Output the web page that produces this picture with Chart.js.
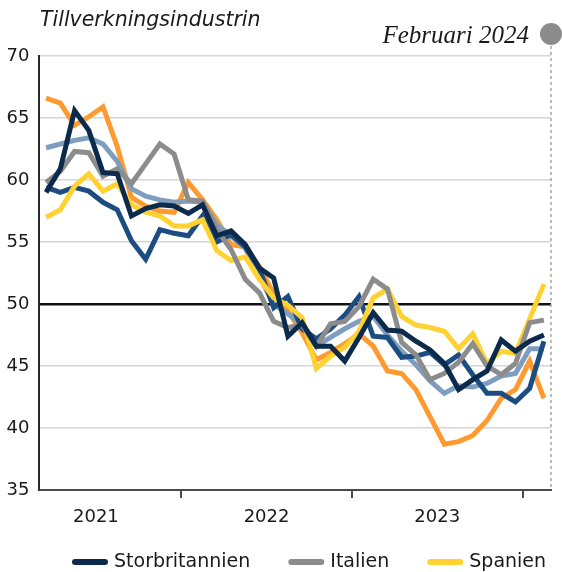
<!DOCTYPE html>
<html lang="sv">
<head>
  <meta charset="UTF-8">
  <title>Tillverkningsindustrin</title>
  <script src="https://cdn.jsdelivr.net/npm/chart.js"></script>
  <style>
    body { margin: 0; background: #fff; }
    canvas { display: block; }
  </style>
</head>
<body>
  <canvas id="pmiChart" width="562" height="572"></canvas>

  <script>
    // Månader, mars 2021 - februari 2024
    const months = [
      '2021-03', '2021-04', '2021-05', '2021-06', '2021-07', '2021-08', '2021-09', '2021-10', '2021-11', '2021-12',
      '2022-01', '2022-02', '2022-03', '2022-04', '2022-05', '2022-06', '2022-07', '2022-08', '2022-09', '2022-10', '2022-11', '2022-12',
      '2023-01', '2023-02', '2023-03', '2023-04', '2023-05', '2023-06', '2023-07', '2023-08', '2023-09', '2023-10', '2023-11', '2023-12',
      '2024-01', '2024-02'
    ];

    const storbritannien = [59.0, 60.9, 65.6, 64.0, 60.6, 60.5, 57.1, 57.7, 58.0, 57.9, 57.3, 58.0, 55.5, 55.9, 54.8, 52.9, 52.1, 47.4, 48.5, 46.6, 46.6, 45.4, 47.3, 49.3, 47.9, 47.8, 47.0, 46.3, 45.2, 43.1, 43.9, 44.6, 47.1, 46.2, 47.0, 47.5];
    const italien = [59.8, 60.7, 62.3, 62.2, 60.3, 60.9, 59.7, 61.3, 62.9, 62.1, 58.4, 58.3, 56.0, 54.4, 52.0, 50.9, 48.6, 48.1, 48.3, 46.6, 48.4, 48.6, 49.8, 52.0, 51.2, 46.9, 45.9, 43.9, 44.4, 45.3, 46.8, 45.0, 44.3, 45.2, 48.5, 48.7];
    const spanien = [57.0, 57.6, 59.5, 60.5, 59.1, 59.7, 58.0, 57.4, 57.1, 56.3, 56.3, 56.8, 54.3, 53.5, 53.8, 52.0, 50.5, 49.9, 48.9, 44.8, 45.8, 46.5, 47.8, 50.5, 51.2, 49.0, 48.3, 48.1, 47.8, 46.4, 47.6, 45.2, 46.2, 46.0, 48.8, 51.6];
    const frankrike = [59.4, 59.0, 59.4, 59.1, 58.2, 57.6, 55.1, 53.6, 56.0, 55.7, 55.5, 57.1, 55.0, 55.6, 54.6, 52.8, 49.7, 50.6, 48.0, 47.2, 48.0, 49.1, 50.6, 47.4, 47.3, 45.7, 45.8, 46.1, 45.1, 45.9, 44.3, 42.8, 42.8, 42.1, 43.2, 47.0];
    const euroomradet = [62.6, 62.9, 63.2, 63.4, 62.9, 61.5, 59.3, 58.7, 58.4, 58.2, 58.3, 58.2, 56.4, 55.5, 54.5, 52.2, 50.0, 49.2, 48.4, 46.6, 47.3, 48.0, 48.6, 49.0, 47.5, 46.2, 45.1, 43.8, 42.8, 43.4, 43.3, 43.6, 44.2, 44.4, 46.4, 46.4];
    const tyskland = [66.6, 66.2, 64.4, 65.1, 65.9, 62.7, 58.6, 57.9, 57.5, 57.4, 59.8, 58.4, 56.8, 54.8, 54.6, 53.0, 50.8, 49.4, 47.7, 45.5, 46.1, 46.8, 47.6, 46.6, 44.6, 44.4, 43.1, 40.9, 38.7, 38.9, 39.4, 40.6, 42.4, 43.1, 45.4, 42.4];

    const yTicks = [35, 40, 45, 50, 55, 60, 65, 70];
    const legendNames = ['Storbritannien', 'Italien', 'Spanien'];

    const FONT = 'DejaVu Sans';
    const TEXT = '#1a1a1a';

    function line(label, data, color) {
      return {
        label: label,
        data: data,
        borderColor: color,
        backgroundColor: color,
        borderWidth: 5,
        pointRadius: 0,
        tension: 0,
        fill: false
      };
    }

    // titel, datum, cirkel, streckad linje och legend
    const overlay = {
      id: 'overlay',
      beforeDatasetsDraw(chart) {
        const ctx = chart.ctx;
        const a = chart.chartArea;
        ctx.save();
        ctx.strokeStyle = '#a6a6a6';
        ctx.lineWidth = 1.5;
        ctx.setLineDash([3, 3]);
        ctx.beginPath();
        ctx.moveTo(a.right, 46);
        ctx.lineTo(a.right, a.bottom);
        ctx.stroke();
        ctx.restore();
      },
      afterDraw(chart) {
        const ctx = chart.ctx;
        const a = chart.chartArea;
        ctx.save();
        ctx.fillStyle = TEXT;
        ctx.font = 'italic 20.5px ' + FONT;
        ctx.textAlign = 'left';
        ctx.textBaseline = 'alphabetic';
        ctx.fillText('Tillverkningsindustrin', 40, 26);

        ctx.font = 'italic 25px "Liberation Serif"';
        ctx.textAlign = 'right';
        ctx.fillText('Februari 2024', 529, 43);

        ctx.fillStyle = '#8c8c8c';
        ctx.beginPath();
        ctx.arc(a.right, 34, 11, 0, Math.PI * 2);
        ctx.fill();

        // legend
        ctx.font = '19px ' + FONT;
        ctx.textAlign = 'left';
        ctx.textBaseline = 'middle';
        ctx.lineCap = 'round';
        ctx.lineWidth = 6;
        let x = 72;
        const y = 562;
        chart.data.datasets.forEach(ds => {
          if (!legendNames.includes(ds.label)) return;
          ctx.strokeStyle = ds.borderColor;
          ctx.beginPath();
          ctx.moveTo(x + 3, y);
          ctx.lineTo(x + 33, y);
          ctx.stroke();
          ctx.fillStyle = TEXT;
          ctx.fillText(ds.label, x + 42, y);
          x += 42 + ctx.measureText(ds.label).width + 38;
        });
        ctx.restore();
      }
    };

    const ctx = document.getElementById('pmiChart').getContext('2d');
    const chart = new Chart(ctx, {
      type: 'line',
      data: {
        labels: months,
        datasets: [
          line('Storbritannien', storbritannien, '#0b2a4c'),
          line('Italien', italien, '#8c8c8c'),
          line('Spanien', spanien, '#ffd231'),
          line('Frankrike', frankrike, '#1c4d80'),
          line('Euroområdet', euroomradet, '#7f9ebf'),
          line('Tyskland', tyskland, '#ff9a30')
        ]
      },
      options: {
        responsive: false,
        animation: false,
        devicePixelRatio: 1,
        layout: { padding: { top: 56, right: 11, bottom: 42, left: 0 } },
        font: { family: FONT },
        plugins: {
          title: { display: false },
          tooltip: { enabled: false },
          legend: { display: false }
        },
        scales: {
          x: {
            type: 'category',
            offset: true,
            afterFit(scale) { scale.height = 40; },
            border: { display: true, color: '#4a4a4a', width: 2 },
            grid: {
              offset: true,
              drawOnChartArea: false,
              drawTicks: true,
              tickLength: 8,
              lineWidth: 2,
              tickColor: c => (months[c.index] && months[c.index].endsWith('-01')) ? '#4a4a4a' : 'rgba(0,0,0,0)'
            },
            ticks: {
              autoSkip: false,
              maxRotation: 0,
              minRotation: 0,
              padding: 9,
              labelOffset: -7.1,
              color: TEXT,
              font: { family: FONT, size: 18 },
              callback: (v, i) => months[i].endsWith('-07') ? months[i].slice(0, 4) : ''
            }
          },
          y: {
            min: 35,
            max: 70,
            afterFit(scale) { scale.width = 39; },
            afterBuildTicks(scale) { scale.ticks = yTicks.map(v => ({ value: v })); },
            border: { display: true, color: '#2a2a2a', width: 2 },
            grid: {
              drawTicks: false,
              color: c => c.tick && c.tick.value === 50 ? '#111111' : '#d6d6d6',
              lineWidth: c => c.tick && c.tick.value === 50 ? 2.5 : 1.5
            },
            ticks: {
              padding: 9.5,
              color: TEXT,
              font: { family: FONT, size: 18 }
            }
          }
        }
      },
      plugins: [overlay]
    });
  </script>
</body>
</html>
